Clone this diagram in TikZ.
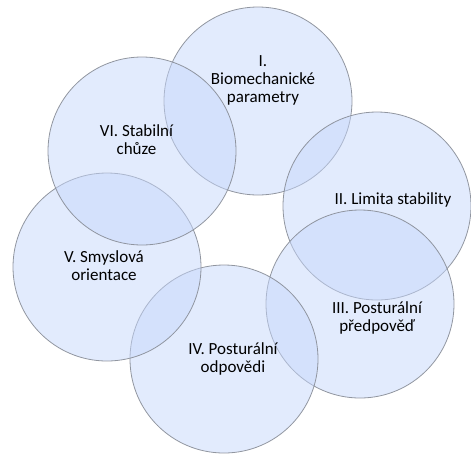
\documentclass[tikz,border=0pt]{standalone}
\usepackage{fontspec}
\setmainfont{Carlito}
\definecolor{cfill}{RGB}{198,215,251}
\definecolor{cline}{RGB}{135,140,150}
\begin{document}
\begin{tikzpicture}[x=1pt,y=-1pt,
  ring/.style={circle, minimum size=188pt, inner sep=0pt, draw=cline, line width=0.8pt,
    fill=cfill, fill opacity=0.5, draw opacity=0.9},
  lbl/.style={align=center, font=\fontsize{17}{18}\selectfont, text=black, inner sep=0pt}]
\useasboundingbox (0,0) rectangle (471,456);
\node[ring] (c1) at (258,101) {};
\node[ring] (c2) at (377,206) {};
\node[ring] (c3) at (360,304) {};
\node[ring] (c4) at (224,359) {};
\node[ring] (c5) at (107,267) {};
\node[ring] (c6) at (142,151) {};
\node[lbl] (t1) at (263,80) {I.\\Biomechanické\\parametry};
\node[lbl] (t2) at (393,200) {II. Limita stability};
\node[lbl] (t3) at (377,318) {III. Posturální\\předpověď};
\node[lbl] (t4) at (233,359) {IV. Posturální\\odpovědi};
\node[lbl] (t5) at (104,265.5) {V. Smyslová\\orientace};
\node[lbl] (t6) at (136.5,140) {VI. Stabilní\\chůze};
\end{tikzpicture}
\end{document}
